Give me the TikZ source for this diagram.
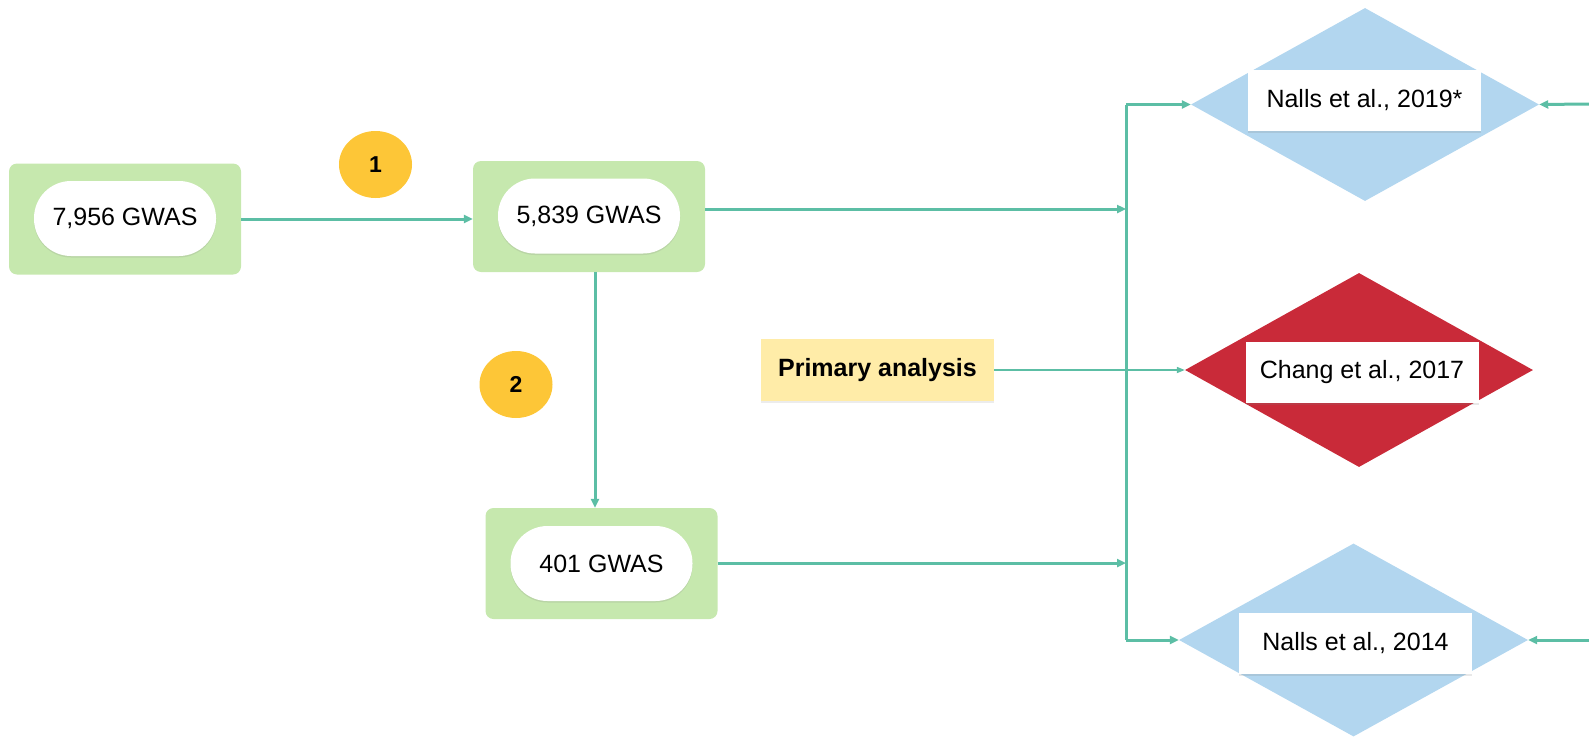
\documentclass[tikz,border=0pt]{standalone}
\usepackage{fontspec}
\setmainfont{Liberation Sans}
\usetikzlibrary{shapes.geometric,arrows.meta,shadows}
\definecolor{teal1}{RGB}{92,190,165}
\definecolor{greenbox}{RGB}{198,232,174}
\definecolor{bluedia}{RGB}{178,214,239}
\definecolor{reddia}{RGB}{201,42,57}
\definecolor{yellowc}{RGB}{253,198,55}
\definecolor{primbox}{RGB}{255,236,168}
\tikzset{
  txt/.style={font=\fontsize{25}{30}\selectfont},
  greenbg/.style={rectangle, fill=greenbox, rounded corners=8pt, minimum width=232pt, minimum height=111pt, inner sep=0pt},
  pill/.style={rectangle, fill=white, rounded corners=37pt, minimum width=182pt, minimum height=75pt, inner sep=0pt, txt,
    drop shadow={opacity=0.18, shadow xshift=0pt, shadow yshift=-1.5pt}},
  dia/.style={diamond, inner sep=0pt, minimum width=348pt, minimum height=193pt},
  labbox/.style={rectangle, fill=white, minimum width=233pt, minimum height=61pt, inner sep=0pt, txt,
    drop shadow={opacity=0.18, shadow xshift=0pt, shadow yshift=-1.5pt}},
  badge/.style={ellipse, fill=yellowc, minimum width=73pt, minimum height=67pt, inner sep=0pt, font=\fontsize{23}{28}\selectfont\bfseries},
  arr/.style={draw=teal1, line width=3pt, -{Triangle[length=9pt,width=8pt]}},
  thinarr/.style={draw=teal1, line width=1.6pt, -{Triangle[length=8pt,width=6pt]}},
  ln/.style={draw=teal1, line width=3pt},
}
\begin{document}
\begin{tikzpicture}[x=1pt,y=-1pt]
\useasboundingbox (0,0) rectangle (1589,736);

% green boxes with pills
\node[greenbg] (g1) at (125,219) {};
\node[pill] (p1) at (125,218.5) {7,956 GWAS};
\node[greenbg] (g2) at (589,216.5) {};
\node[pill] (p2) at (589,216) {5,839 GWAS};
\node[greenbg] (g3) at (601.5,563.5) {};
\node[pill] (p3) at (601.5,563.5) {401 GWAS};

% badges
\node[badge] (b1) at (375.5,164.5) {1};
\node[badge] (b2) at (516,384.5) {2};

% primary analysis
\node[rectangle, fill=primbox, minimum width=233pt, minimum height=62pt, inner sep=0pt,
  font=\fontsize{25}{30}\selectfont\bfseries,
  drop shadow={opacity=0.15, shadow xshift=0pt, shadow yshift=-1.5pt}] (prim) at (877.5,370) {Primary analysis};

% diamonds
\node[dia, fill=bluedia] (d1) at (1365,104.5) {};
\node[labbox] (l1) at (1364.5,100.5) {Nalls et al., 2019*};
\node[dia, fill=reddia, minimum height=194pt] (d2) at (1359,370) {};
\node[labbox] (l2) at (1362,372.5) {Chang et al., 2017};
\node[dia, fill=bluedia, minimum width=349pt] (d3) at (1353.5,640) {};
\node[labbox] (l3) at (1355.5,643.5) {Nalls et al., 2014};

% coordinates
\coordinate (jx) at (1126,0);
\coordinate (j1) at (1126,209);
\coordinate (j3) at (1126,563);
\coordinate (dn) at (595,0);
\coordinate (r1) at (1589,104);
\coordinate (r3) at (1589,640);

% connectors
\draw[arr] (g1.east) -- (g1.east -| g2.west);
\draw[arr] (g2.east |- j1) -- (j1);
\draw[arr] (g2.south -| dn) -- (g3.north -| dn);
\draw[arr] (g3.east |- j3) -- (j3);
\draw[ln] (d1.west -| jx) -- (d3.west -| jx);
\draw[arr] (d1.west -| jx) -- (d1.west);
\draw[arr] (d3.west -| jx) -- (d3.west);
\draw[thinarr] (prim.east) -- (d2.west);
\draw[arr] (r1) -- (d1.east);
\draw[arr] (r3) -- (d3.east);
\end{tikzpicture}
\end{document}
